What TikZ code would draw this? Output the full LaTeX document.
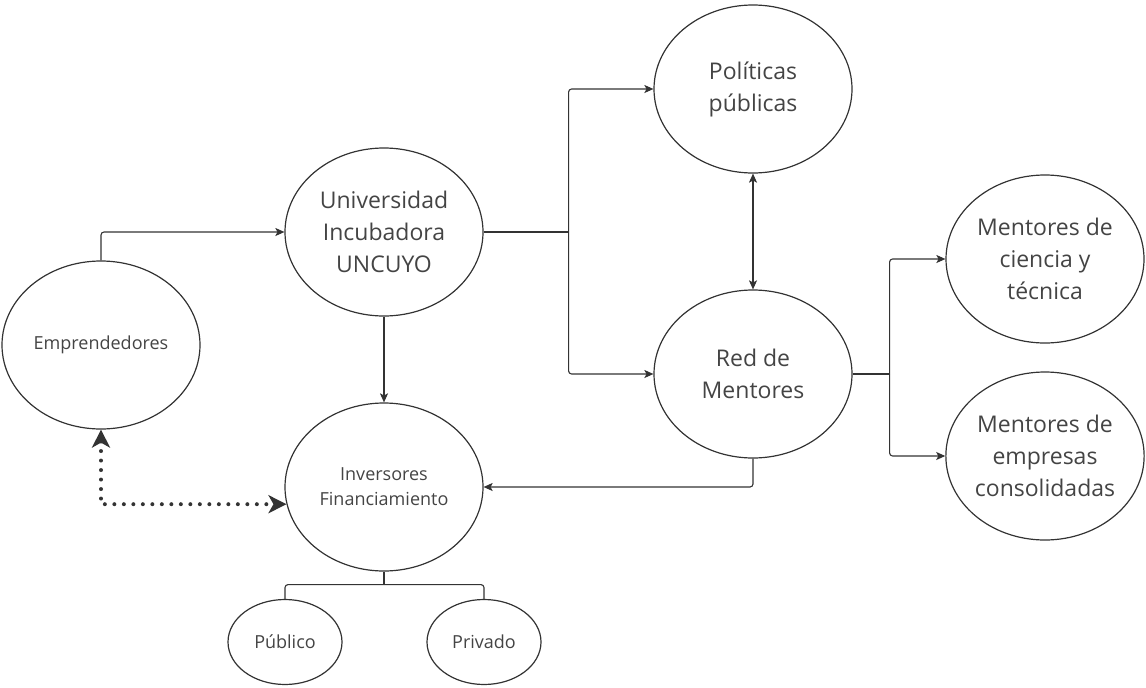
\documentclass[tikz,border=0pt]{standalone}
\usepackage{fontspec}
\setmainfont{Open Sans}
\usepackage{tikz}
\usetikzlibrary{shapes.geometric, arrows.meta}
\definecolor{ink}{RGB}{51, 51, 51}
\definecolor{txt}{RGB}{68, 68, 68}

\begin{document}
\begin{tikzpicture}[x=1pt, y=-1pt,
  blob/.style={ellipse, draw=ink, line width=1.2pt, minimum width=198pt,
    minimum height=168pt, inner sep=0pt, align=center, text=txt,
    font=\fontsize{23}{32}\selectfont},
  small/.style={blob, font=\fontsize{18}{25}\selectfont},
  leaf/.style={small, minimum width=114pt, minimum height=85pt},
  link/.style={draw=ink, line width=1.1pt, rounded corners=3pt},
  tip/.style={link, -{Stealth[length=9pt, width=8pt, inset=2pt]}},
  both/.style={link, {Stealth[length=9pt, width=8pt, inset=2pt]}-{Stealth[length=9pt, width=8pt, inset=2pt]}},
  dots/.style={draw=ink, line width=4pt, line cap=round,
    dash pattern=on 0pt off 9.5pt,
    {Stealth[length=18pt, width=18pt, inset=5pt]}-{Stealth[length=18pt, width=18pt, inset=5pt]}}]

  \useasboundingbox (0, 0) rectangle (1146, 688);

  % actores
  \node[small] (emp)  at (101, 345)  {Emprendedores};
  \node[blob]  (uni)  at (384, 232)  {Universidad\\Incubadora\\UNCUYO};
  \node[blob]  (pol)  at (753, 89)   {Políticas\\públicas};
  \node[blob]  (red)  at (753, 374)  {Red de\\Mentores};
  \node[blob]  (cien) at (1045, 259) {Mentores de\\ciencia y\\técnica};
  \node[blob]  (cons) at (1045, 456) {Mentores de\\empresas\\consolidadas};
  \node[small] (inv)  at (384, 487)  {Inversores\\Financiamiento};
  \node[leaf]  (pub)  at (285, 642)  {Público};
  \node[leaf]  (priv) at (484, 642)  {Privado};

  % vinculos
  \draw[tip] (emp.north) |- (uni.west);
  \draw[tip] (uni.south) -- (inv.north);
  \draw[link] (uni.east) -- ++(85, 0) coordinate (b1);
  \foreach \n in {pol, red}
    \draw[tip] (b1) |- (\n.west);
  \draw[link] (red.east) -- ++(37, 0) coordinate (b2);
  \foreach \n in {cien, cons}
    \draw[tip] (b2) |- (\n.west);
  \draw[both] (pol.south) -- (red.north);
  \draw[tip] (red.south) |- (inv.east);
  \draw[link] (inv.south) -- ++(0, 13) coordinate (b3);
  \foreach \n in {pub, priv}
    \draw[link] (b3) -| (\n.north);

  \draw[dots] (emp.south) |- (inv.190);

\end{tikzpicture}
\end{document}
